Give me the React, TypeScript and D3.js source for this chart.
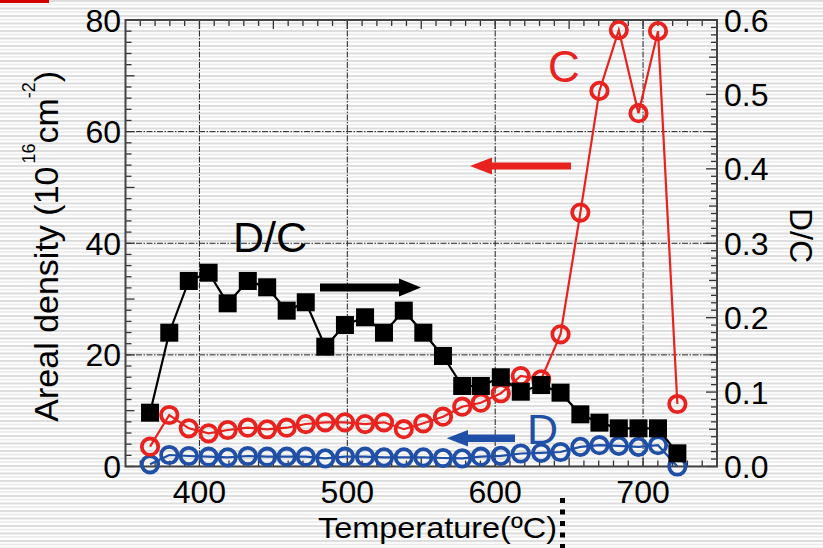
import React from "react";
import * as d3 from "d3";

const temps = [366.6, 379.6, 392.8, 406.2, 419.1, 432.7, 445.8, 459.0, 471.9, 485.1, 498.4, 512.0, 524.8, 538.2, 551.4, 564.7, 577.7, 590.3, 603.8, 617.3, 631.1, 644.2, 657.6, 670.5, 683.6, 696.9, 710.1, 723.2];
const cValues = [3.55, 9.23, 6.84, 5.95, 6.54, 6.95, 6.67, 6.95, 7.61, 7.92, 7.92, 7.61, 7.92, 6.68, 7.74, 8.92, 10.71, 11.43, 13.12, 16.21, 15.62, 23.69, 45.5, 67.3, 78.2, 63.3, 78.0, 11.2];
const dValues = [0.39, 2.06, 1.88, 1.76, 1.64, 1.88, 1.76, 1.76, 1.76, 1.46, 1.76, 1.76, 1.64, 1.64, 1.64, 1.52, 1.46, 1.76, 1.9, 2.33, 2.45, 2.6, 3.52, 3.82, 3.7, 3.52, 3.82, 0.0];
const dcValues = [0.0723, 0.1798, 0.2493, 0.2604, 0.2193, 0.2493, 0.2408, 0.2094, 0.2207, 0.161, 0.1901, 0.2005, 0.1798, 0.2094, 0.1798, 0.1485, 0.1082, 0.1082, 0.1199, 0.1005, 0.1095, 0.0992, 0.0701, 0.0589, 0.0513, 0.0513, 0.0513, 0.0177];

const xTickLabels = [400, 500, 600, 700];
const yLeftTickLabels = [0, 20, 40, 60, 80];
const yRightTickLabels = ["0.0", "0.1", "0.2", "0.3", "0.4", "0.5", "0.6"];
const yGridValues = [20, 40, 60];

const RED = "#e8231f";
const BLUE = "#1f4fa6";
const FONT = "'Liberation Sans', Arial, sans-serif";

export default function App() {
  const x = d3.scaleLinear().domain([350, 750]).range([125.5, 717]);
  const yL = d3.scaleLinear().domain([0, 80]).range([466.5, 20]);
  const yR = d3.scaleLinear().domain([0, 0.6]).range([466.5, 20]);

  const lineC = d3.line<number>().x((_, i) => x(temps[i])).y((v) => yL(v));
  const lineDC = d3.line<number>().x((_, i) => x(temps[i])).y((v) => yR(v));

  const xMinor = d3.range(360, 750, 10);
  const yLMinor = d3.range(0, 81, 2);
  const yRMinor = d3.range(0, 61, 1);

  const [x0, x1] = x.range();
  const [yb, yt] = yL.range();

  return (
    <svg width={823} height={548} style={{ position: "absolute", left: 0, top: 0 }} fontFamily={FONT}>
      <defs>
        <pattern id="stripes" width={8} height={7.5} patternUnits="userSpaceOnUse">
          <rect width={8} height={7.5} fill="#ffffff" />
          <rect y={0} width={8} height={2} fill="#dcdcdc" />
          <rect y={3.75} width={8} height={1.5} fill="#e8e8e8" />
        </pattern>
      </defs>
      <rect width={823} height={548} fill="url(#stripes)" />
      <rect x={0} y={0} width={49} height={3} fill="#d40000" />

      {/* grid */}
      {xTickLabels.map((t) => (
        <line key={"gx" + t} x1={x(t)} x2={x(t)} y1={yt} y2={yb} stroke="#222" strokeWidth={1} strokeDasharray="6,1.5,1.5,1.5" />
      ))}
      {yGridValues.map((t) => (
        <line key={"gy" + t} x1={x0} x2={x1} y1={yL(t)} y2={yL(t)} stroke="#222" strokeWidth={1} strokeDasharray="6,1.5,1.5,1.5" />
      ))}

      {/* ticks */}
      {xMinor.map((t) => {
        const len = t % 50 === 0 ? 9 : 6;
        return (
          <g key={"xt" + t} stroke="#333" strokeWidth={1.3}>
            <line x1={x(t)} x2={x(t)} y1={yb} y2={yb - len} />
            <line x1={x(t)} x2={x(t)} y1={yt} y2={yt + len} />
          </g>
        );
      })}
      {yLMinor.map((t) => {
        const len = t % 10 === 0 ? 9 : 6;
        return <line key={"yl" + t} x1={x0} x2={x0 + len} y1={yL(t)} y2={yL(t)} stroke="#333" strokeWidth={1.3} />;
      })}
      {yRMinor.map((k) => {
        const v = k / 100;
        const len = k % 10 === 0 ? 11 : k % 5 === 0 ? 8 : 6;
        return <line key={"yr" + k} x1={x1} x2={x1 - len} y1={yR(v)} y2={yR(v)} stroke="#333" strokeWidth={1.3} />;
      })}

      {/* frame */}
      <rect x={x0} y={yt} width={x1 - x0} height={yb - yt} fill="none" stroke="#444" strokeWidth={2} />

      {/* tick labels */}
      {xTickLabels.map((t) => (
        <text key={"xl" + t} x={x(t)} y={503} fontSize={32} textAnchor="middle" fill="#000">{t}</text>
      ))}
      {yLeftTickLabels.map((t) => (
        <text key={"yll" + t} x={121} y={yL(t) + 11.5} fontSize={32} textAnchor="end" fill="#000">{t}</text>
      ))}
      {yRightTickLabels.map((t) => (
        <text key={"yrl" + t} x={724} y={yR(+t) + 11.5} fontSize={32} textAnchor="start" fill="#000">{t}</text>
      ))}

      {/* axis titles */}
      <text x={318} y={538} fontSize={30} textLength={239} lengthAdjust="spacingAndGlyphs" fill="#000">Temperature(ºC)</text>
      <text transform="rotate(-90)" x={-421.7} y={58} fontSize={34} fill="#000">
        Areal density (10
        <tspan dx={3} dy={-23} fontSize={18}>16</tspan>
        <tspan dy={23} fontSize={34}>cm</tspan>
        <tspan dy={-23} fontSize={18}>-2</tspan>
        <tspan dy={23} fontSize={34}>)</tspan>
      </text>
      <text transform="translate(790,208) rotate(90)" x={0} y={0} fontSize={32} fill="#000">D/C</text>

      {/* D series (blue) */}
      <path d={lineC(dValues) || ""} fill="none" stroke={BLUE} strokeWidth={2.2} />
      {dValues.map((v, i) => (
        <circle key={"d" + i} cx={x(temps[i])} cy={yL(v)} r={8.2} fill="none" stroke={BLUE} strokeWidth={3.8} />
      ))}

      {/* C series (red) */}
      <path d={lineC(cValues) || ""} fill="none" stroke={RED} strokeWidth={2.2} />
      {cValues.map((v, i) => (
        <circle key={"c" + i} cx={x(temps[i])} cy={yL(v)} r={8.2} fill="none" stroke={RED} strokeWidth={3.8} />
      ))}

      {/* D/C series (black) */}
      <path d={lineDC(dcValues) || ""} fill="none" stroke="#000" strokeWidth={2.2} />
      {dcValues.map((v, i) => (
        <rect key={"dc" + i} x={x(temps[i]) - 9} y={yR(v) - 9} width={18} height={18} fill="#000" />
      ))}

      {/* arrows */}
      <path d="M320,283.5 L399,283.5 L399,278.5 L421,287.5 L399,296.5 L399,291.5 L320,291.5 Z" fill="#000" />
      <path d="M571,162.5 L492,162.5 L492,157.5 L470,166 L492,174.5 L492,169.5 L571,169.5 Z" fill={RED} />
      <path d="M515,434.5 L468,434.5 L468,430 L446.7,438.3 L468,446.6 L468,442 L515,442 Z" fill={BLUE} />

      {/* series labels */}
      <text x={233} y={252} fontSize={43} fill="#000">D/C</text>
      <text x={548} y={82} fontSize={44} fill={RED}>C</text>
      <text x={527} y={444} fontSize={43} fill={BLUE}>D</text>

      {/* dashed marker at bottom */}
      <line x1={562.5} x2={562.5} y1={498} y2={548} stroke="#000" strokeWidth={5} strokeDasharray="5,6.5" />
    </svg>
  );
}
